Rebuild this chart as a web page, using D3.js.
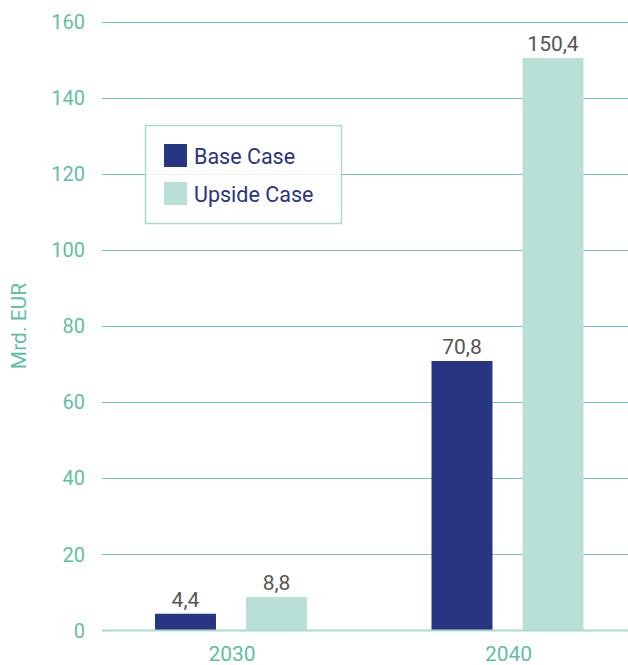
<!DOCTYPE html>
<html>
<head>
<meta charset="utf-8">
<script src="https://cdn.jsdelivr.net/npm/d3@7"></script>
<style>
  body { margin: 0; background: #fff; }
  svg text { font-family: Roboto, sans-serif; }
</style>
</head>
<body>
<div id="chart"></div>
<script>
const years = ['2030', '2040']
const seriesNames = ['Base Case', 'Upside Case']
const baseValues = [4.4, 70.8]
const upsideValues = [8.8, 150.4]
const yTicks = [0, 20, 40, 60, 80, 100, 120, 140, 160]

const width = 628
const height = 665
const teal = '#5fbf9f'
const colors = ['#283583', '#b9e0d6']

const svg = d3.select('#chart')
  .append('svg')
  .attr('width', width)
  .attr('height', height)

const y = d3.scaleLinear().domain([0, 160]).range([630.5, 21.5])

const x0 = d3.scaleBand().domain(years).range([92.75, 645.75])
const x1 = d3.scaleBand().domain(seriesNames).range([0, 152]).paddingInner(0.33)

const gridLeft = 102

// gridlines
svg.append('g')
  .selectAll('line')
  .data(yTicks.filter(d => d > 0))
  .join('line')
  .attr('x1', gridLeft)
  .attr('x2', width)
  .attr('y1', d => Math.round(y(d)) + 0.5)
  .attr('y2', d => Math.round(y(d)) + 0.5)
  .attr('stroke', '#72c9ae')
  .attr('stroke-width', 1)

// tick labels
svg.append('g')
  .selectAll('text')
  .data(yTicks)
  .join('text')
  .attr('x', 85)
  .attr('y', d => y(d))
  .attr('dy', '0.36em')
  .attr('text-anchor', 'end')
  .attr('font-size', 20)
  .attr('fill', teal)
  .text(d => d)

// axis title
svg.append('text')
  .attr('transform', 'translate(26,326) rotate(-90)')
  .attr('text-anchor', 'middle')
  .attr('font-size', 21)
  .attr('fill', teal)
  .text('Mrd. EUR')

// bars
const rows = years.map((yr, i) => ({ year: yr, values: [baseValues[i], upsideValues[i]] }))

const groups = svg.append('g')
  .selectAll('g')
  .data(rows)
  .join('g')
  .attr('transform', d => `translate(${x0(d.year) + (x0.bandwidth() - 152) / 2},0)`)

groups.selectAll('rect')
  .data(d => d.values.map((v, i) => ({ key: seriesNames[i], value: v, i })))
  .join('rect')
  .attr('x', d => x1(d.key))
  .attr('width', x1.bandwidth())
  .attr('y', d => y(d.value))
  .attr('height', d => y(0) - y(d.value))
  .attr('fill', d => colors[d.i])

groups.selectAll('text')
  .data(d => d.values.map((v, i) => ({ key: seriesNames[i], value: v })))
  .join('text')
  .attr('x', d => x1(d.key) + x1.bandwidth() / 2)
  .attr('y', d => y(d.value) - 7)
  .attr('text-anchor', 'middle')
  .attr('font-size', 21)
  .attr('fill', '#555')
  .text(d => d3.format('.1f')(d.value).replace('.', ','))

// baseline
svg.append('line')
  .attr('x1', gridLeft)
  .attr('x2', width)
  .attr('y1', y(0))
  .attr('y2', y(0))
  .attr('stroke', '#a6dccc')
  .attr('stroke-width', 2)

// year labels
svg.append('g')
  .selectAll('text')
  .data(years)
  .join('text')
  .attr('x', d => x0(d) + x0.bandwidth() / 2 + 1)
  .attr('y', 661)
  .attr('text-anchor', 'middle')
  .attr('font-size', 21)
  .attr('fill', teal)
  .text(d => d)

// legend
const legend = svg.append('g').attr('transform', 'translate(145,125)')

legend.append('rect')
  .attr('x', 0.5)
  .attr('y', 0.5)
  .attr('width', 196)
  .attr('height', 98)
  .attr('fill', 'rgba(255,255,255,0.85)')
  .attr('stroke', '#a6dccc')
  .attr('stroke-width', 1.5)

const items = legend.selectAll('g')
  .data(seriesNames)
  .join('g')
  .attr('transform', (d, i) => `translate(19,${19 + i * 38})`)

items.append('rect')
  .attr('width', 23)
  .attr('height', 23)
  .attr('fill', (d, i) => colors[i])

items.append('text')
  .attr('x', 30)
  .attr('y', 19.5)
  .attr('font-size', 21.5)
  .attr('fill', '#283583')
  .text(d => d)
</script>
</body>
</html>
